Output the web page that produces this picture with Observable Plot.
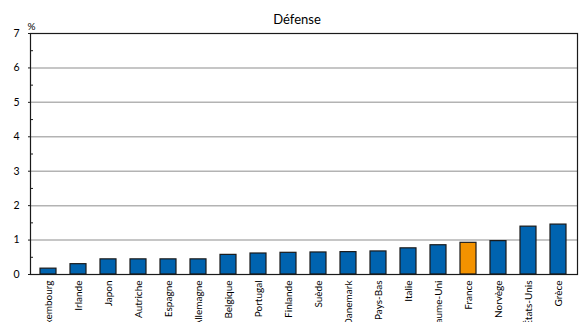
<!DOCTYPE html>
<html>
<head>
<meta charset="utf-8">
<script src="https://cdn.jsdelivr.net/npm/d3@7"></script>
<script src="https://cdn.jsdelivr.net/npm/@observablehq/plot@0.6"></script>
<style>
  html, body { margin: 0; padding: 0; background: #fff; }
  #chart svg { display: block; }
</style>
</head>
<body>
<div id="chart"></div>
<script>
const countries = ["Luxembourg","Irlande","Japon","Autriche","Espagne","Allemagne","Belgique","Portugal","Finlande","Suède","Danemark","Pays-Bas","Italie","Royaume-Uni","France","Norvège","États-Unis","Grèce"];
const values = [0.17,0.30,0.44,0.44,0.44,0.44,0.57,0.61,0.63,0.64,0.65,0.67,0.76,0.85,0.92,0.97,1.39,1.45];
const highlight = "France";
const yTicks = [0,1,2,3,4,5,6,7];
const yMinorTicks = [0.5,1.5,2.5,3.5,4.5,5.5,6.5];
const title = "Défense";
const unit = "%";

const data = countries.map((c, i) => ({country: c, value: values[i]}));

const chart = Plot.plot({
  width: 582,
  height: 322,
  marginLeft: 30,
  marginRight: 5,
  marginTop: 33,
  marginBottom: 48,
  style: {fontFamily: "Lato, 'Open Sans', sans-serif", fontSize: "10px", color: "#000", background: "#fff"},
  x: {domain: countries, paddingInner: 0.46, paddingOuter: 0.2, label: null},
  y: {domain: [0, 7], label: null},
  marks: [
    Plot.gridY(yTicks.slice(1, -1), {stroke: "#b3b3b3", strokeOpacity: 1, strokeWidth: 1.5}),
    Plot.barY(data, {
      x: "country", y: "value",
      fill: d => d.country === highlight ? "#F39200" : "#0063AF",
      stroke: "#1a1a1a", strokeWidth: 1.2
    }),
    Plot.frame({stroke: "#1a1a1a", strokeWidth: 1.2}),
    Plot.axisY(yMinorTicks, {tickSize: -3, tickFormat: () => "", label: null, stroke: "#1a1a1a"}),
    Plot.axisY(yTicks, {tickSize: 2, tickPadding: 9, label: null, stroke: "#1a1a1a", fontSize: 10.5}),
    Plot.axisX({tickSize: 0, tickRotate: -90, tickPadding: 6, label: null, fontSize: 10}),
    Plot.text([title], {frameAnchor: "top", dy: -19, dx: -7, fontSize: 13, fill: "#000"}),
    Plot.text([unit], {frameAnchor: "top-left", dy: -11, dx: 1, textAnchor: "middle", fontSize: 10, fill: "#000"})
  ]
});
document.getElementById("chart").appendChild(chart);
</script>
</body>
</html>
